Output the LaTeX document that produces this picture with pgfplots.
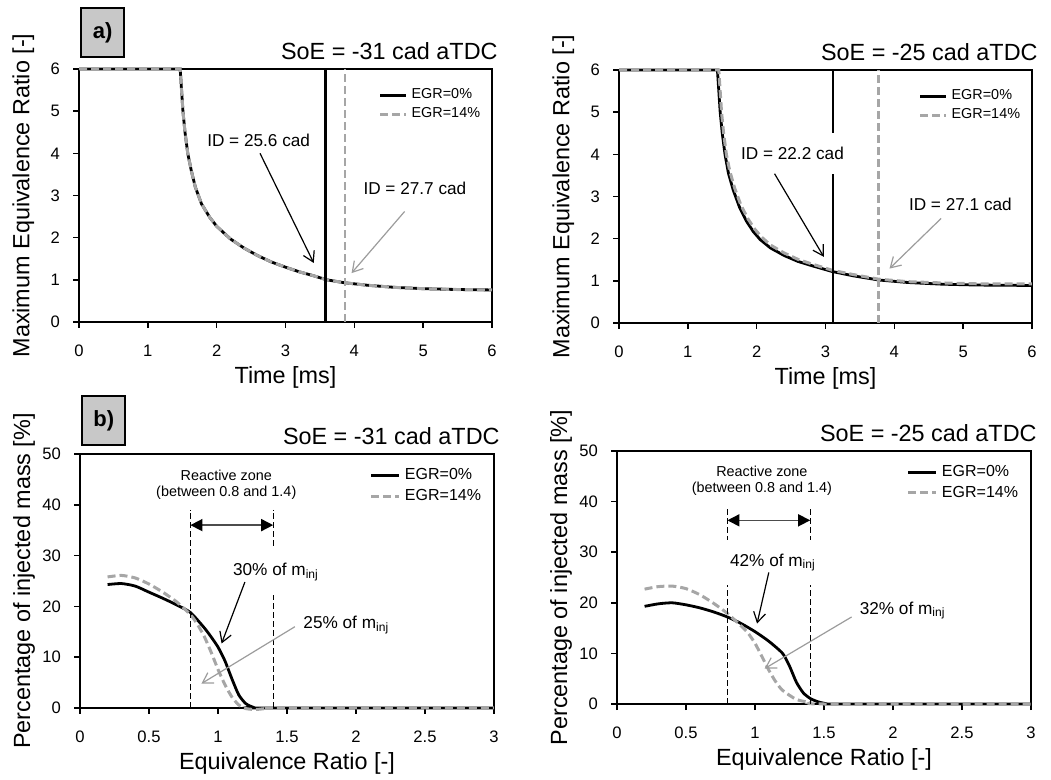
\documentclass[border=0pt]{standalone}
\usepackage{pgfplots}
\pgfplotsset{compat=1.18}
\usepackage{fontspec}
\setmainfont{Liberation Sans}
\usetikzlibrary{arrows.meta}
\definecolor{egrgray}{HTML}{A6A6A6}
\definecolor{arrgray}{HTML}{9C9C9C}
\definecolor{boxgray}{HTML}{C8C8C8}

\pgfplotsset{
  panel/.style={
    scale only axis, width=206.5pt, height=126.5pt,
    anchor=south west, clip=false,
    axis line style={line width=1pt},
    tick align=outside, xtick pos=bottom, ytick pos=left,
    major tick length=3pt, tick style={line width=0.8pt, black},
    ticklabel style={font=\fontsize{8.3}{9}\selectfont},
    xticklabel style={yshift=-5pt},
    yticklabel style={xshift=-3pt},
    /pgf/number format/assume math mode=true,
    label style={font=\fontsize{11.7}{13}\selectfont},
    xlabel style={at={(axis description cs:0.5,-0.218)}, anchor=center},
    ylabel style={at={(axis description cs:-0.135,0.5)}, anchor=center},
    every axis title shift=0pt,
    title style={at={(1,1)}, anchor=base east, yshift=4.8pt, xshift=3pt,
      font=\fontsize{11.7}{13}\selectfont, inner sep=0pt},
    legend style={draw=none, fill=none, anchor=north west, row sep=-1pt},
    legend cell align=left,
  },
  toplegend/.style={
    legend style={at={(0.71,0.955)}, font=\fontsize{7.2}{8}\selectfont},
    legend image code/.code={\draw[##1] (0pt,0pt) -- (13pt,0pt);},
  },
  botlegend/.style={
    legend style={at={(0.685,0.975)}, font=\fontsize{8}{9}\selectfont},
    legend image code/.code={\draw[##1] (0pt,0pt) -- (14pt,0pt);},
  },
  egr0/.style={black, line width=1.4pt},
  egr14/.style={egrgray, line width=1.5pt, dash pattern=on 4pt off 2pt},
}
\tikzset{
  ann/.style={font=\fontsize{8.6}{10}\selectfont},
  boxed/.style={ann, fill=white, inner xsep=3pt, inner ysep=7pt},
  barr/.style={black, line width=0.6pt, -{Straight Barb[length=5pt,width=6pt]}},
  garr/.style={arrgray, line width=0.6pt, -{Straight Barb[length=5pt,width=6pt]}},
  zone/.style={black, line width=0.5pt, dash pattern=on 3pt off 1.5pt},
  zarr/.style={black!70, line width=0.8pt,
    {Triangle[length=6pt,width=6pt,color=black]}-{Triangle[length=6pt,width=6pt,color=black]}},
  lab/.style={draw, line width=1.2pt, fill=boxgray, minimum width=21.5pt,
    minimum height=24.5pt, inner sep=0pt, anchor=north west,
    font=\fontsize{11}{12}\selectfont\bfseries},
}

\begin{document}
\begin{tikzpicture}
\path[use as bounding box] (0pt,0pt) rectangle (525.5pt,-390pt);

% ---- a) left
\begin{axis}[panel, toplegend, at={(39.5pt,-161pt)},
  xmin=0, xmax=6, ymin=0, ymax=6, xtick={0,...,6}, ytick={0,...,6},
  xlabel={Time [ms]}, ylabel={Maximum Equivalence Ratio [-]},
  title={SoE = -31 cad aTDC}]
\addplot[egr0] coordinates {(0,6) (1.47,6) (1.49,5.5) (1.51,5.0) (1.54,4.5) (1.58,4.0) (1.63,3.6) (1.69,3.2) (1.78,2.8) (1.9,2.48) (2.0,2.27) (2.2,1.97) (2.4,1.75) (2.6,1.57) (2.8,1.42) (3.0,1.3) (3.2,1.19) (3.4,1.1) (3.6,1.0) (3.86,0.93) (4.2,0.87) (4.6,0.82) (5.0,0.79) (5.5,0.77) (6.0,0.76)};
\addplot[egr14] coordinates {(0,6) (1.47,6) (1.49,5.5) (1.51,5.0) (1.54,4.5) (1.58,4.0) (1.63,3.6) (1.69,3.2) (1.78,2.8) (1.9,2.48) (2.0,2.27) (2.2,1.97) (2.4,1.75) (2.6,1.57) (2.8,1.42) (3.0,1.3) (3.2,1.19) (3.4,1.1) (3.6,1.0) (3.86,0.93) (4.2,0.87) (4.6,0.82) (5.0,0.79) (5.5,0.77) (6.0,0.76)};
\addplot[black, line width=1.2pt, forget plot] coordinates {(3.58,0) (3.58,6)};
\addplot[egrgray, line width=1.1pt, dash pattern=on 4pt off 2pt, forget plot] coordinates {(3.86,0) (3.86,6)};
\legend{EGR=0\%, EGR=14\%}
\node[ann] at (axis cs:2.61,4.3) {ID = 25.6 cad};
\draw[barr] (axis cs:2.63,4.0) -- (axis cs:3.41,1.4);
\node[ann] at (axis cs:4.88,3.17) {ID = 27.7 cad};
\draw[garr] (axis cs:4.73,2.62) -- (axis cs:3.96,1.16);
\end{axis}

% ---- a) right
\begin{axis}[panel, toplegend, at={(309.5pt,-161.5pt)},
  xmin=0, xmax=6, ymin=0, ymax=6, xtick={0,...,6}, ytick={0,...,6},
  xlabel={Time [ms]}, ylabel={Maximum Equivalence Ratio [-]},
  title={SoE = -25 cad aTDC}]
\addplot[egr0] coordinates {(0,6) (1.43,6) (1.45,5.5) (1.47,5.0) (1.5,4.5) (1.54,4.0) (1.59,3.55) (1.66,3.15) (1.75,2.75) (1.85,2.42) (1.95,2.17) (2.05,1.98) (2.2,1.78) (2.4,1.6) (2.6,1.46) (2.8,1.36) (3.1,1.22) (3.4,1.12) (3.77,1.02) (4.2,0.96) (4.7,0.92) (5.2,0.9) (6.0,0.89)};
\addplot[egr14] coordinates {(0,6) (1.45,6) (1.47,5.5) (1.49,5.0) (1.52,4.5) (1.56,4.0) (1.61,3.6) (1.68,3.2) (1.77,2.8) (1.87,2.48) (1.97,2.23) (2.07,2.04) (2.2,1.85) (2.4,1.66) (2.6,1.51) (2.8,1.4) (3.1,1.25) (3.4,1.15) (3.77,1.04) (4.2,0.98) (4.7,0.95) (5.2,0.93) (6.0,0.93)};
\addplot[black, line width=1.2pt, forget plot] coordinates {(3.105,0) (3.105,6)};
\addplot[egrgray, line width=1.1pt, dash pattern=on 4pt off 2pt, forget plot] coordinates {(3.77,0) (3.77,6)};
\legend{EGR=0\%, EGR=14\%}
\node[boxed] at (axis cs:2.52,4.02) {ID = 22.2 cad};
\draw[barr] (axis cs:2.26,3.54) -- (axis cs:2.975,1.57);
\node[ann] at (axis cs:4.96,2.82) {ID = 27.1 cad};
\draw[garr] (axis cs:4.68,2.48) -- (axis cs:3.93,1.29);
\end{axis}

% ---- b) left
\begin{axis}[panel, botlegend, at={(40pt,-354pt)}, width=207pt, height=127pt,
  xmin=0, xmax=3, ymin=0, ymax=50, xtick={0,0.5,...,3}, ytick={0,10,...,50},
  xlabel={Equivalence Ratio [-]}, ylabel={Percentage of injected mass [\%]},
  title={SoE = -31 cad aTDC}]
\addplot[egr0, smooth, tension=0.4] coordinates {(0.2,24.3) (0.3,24.5) (0.4,24.0) (0.5,22.8) (0.6,21.6) (0.7,20.3) (0.8,18.8) (0.9,15.8) (0.95,14.0) (1.0,12.0) (1.05,9.3) (1.1,5.8) (1.15,2.6) (1.2,0.9) (1.25,0.2) (1.3,0) (3,0)};
\addplot[egr14, smooth, tension=0.4] coordinates {(0.2,25.8) (0.3,26.1) (0.4,25.6) (0.5,24.4) (0.6,22.8) (0.7,20.9) (0.8,18.4) (0.85,16.5) (0.9,14.1) (0.95,11.0) (1.0,7.6) (1.05,4.6) (1.1,2.2) (1.15,0.6) (1.2,-0.1) (1.27,-0.3) (1.35,-0.1) (1.45,0) (3,0)};
\legend{EGR=0\%, EGR=14\%}
\addplot[zone, forget plot] coordinates {(0.8,0) (0.8,39)};
\addplot[zone, forget plot] coordinates {(1.4,0) (1.4,39)};
\draw[zarr] (axis cs:0.8,36) -- (axis cs:1.4,36);
\node[align=center, font=\fontsize{7.2}{8}\selectfont] at (axis cs:1.06,44) {Reactive zone\\(between 0.8 and 1.4)};
\node[boxed] at (axis cs:1.42,26.8) {30\% of m\textsubscript{inj}};
\draw[barr] (axis cs:1.195,24.8) -- (axis cs:1.026,12.7);
\node[ann] at (axis cs:1.93,16.3) {25\% of m\textsubscript{inj}};
\draw[garr] (axis cs:1.557,16) -- (axis cs:0.88,4.8);
\end{axis}

% ---- b) right
\begin{axis}[panel, botlegend, at={(308.5pt,-352pt)}, width=207pt, height=126.5pt,
  xmin=0, xmax=3, ymin=0, ymax=50, xtick={0,0.5,...,3}, ytick={0,10,...,50},
  xlabel={Equivalence Ratio [-]}, ylabel={Percentage of injected mass [\%]},
  title={SoE = -25 cad aTDC}]
\addplot[egr0, smooth, tension=0.4] coordinates {(0.2,19.3) (0.3,19.8) (0.4,20.0) (0.5,19.6) (0.6,19.0) (0.7,18.2) (0.8,17.2) (0.9,15.9) (1.0,14.3) (1.1,12.4) (1.2,10.0) (1.25,7.5) (1.3,4.3) (1.35,2.2) (1.4,1.1) (1.45,0.5) (1.5,0.15) (1.6,0) (3,0)};
\addplot[egr14, smooth, tension=0.4] coordinates {(0.2,22.7) (0.3,23.2) (0.4,23.3) (0.5,22.8) (0.6,21.6) (0.7,19.9) (0.8,17.9) (0.9,15.4) (0.95,14.0) (1.0,12.0) (1.05,9.4) (1.1,6.7) (1.15,4.4) (1.2,2.7) (1.3,0.9) (1.4,0.3) (1.5,0) (3,0)};
\legend{EGR=0\%, EGR=14\%}
\addplot[zone, forget plot] coordinates {(0.8,0) (0.8,38.9)};
\addplot[zone, forget plot] coordinates {(1.4,0) (1.4,38.9)};
\draw[zarr] (axis cs:0.8,36.3) -- (axis cs:1.4,36.3);
\node[align=center, font=\fontsize{7.2}{8}\selectfont] at (axis cs:1.05,44.2) {Reactive zone\\(between 0.8 and 1.4)};
\node[boxed] at (axis cs:1.13,28) {42\% of m\textsubscript{inj}};
\draw[barr] (axis cs:1.10,26) -- (axis cs:1.015,15.9);
\node[ann] at (axis cs:2.07,18.5) {32\% of m\textsubscript{inj}};
\draw[garr] (axis cs:1.70,17.2) -- (axis cs:1.07,7);
\end{axis}

\node[lab] at (40pt,-3.5pt) {a)};
\node[lab] at (40.5pt,-197.5pt) {b)};
\end{tikzpicture}
\end{document}
